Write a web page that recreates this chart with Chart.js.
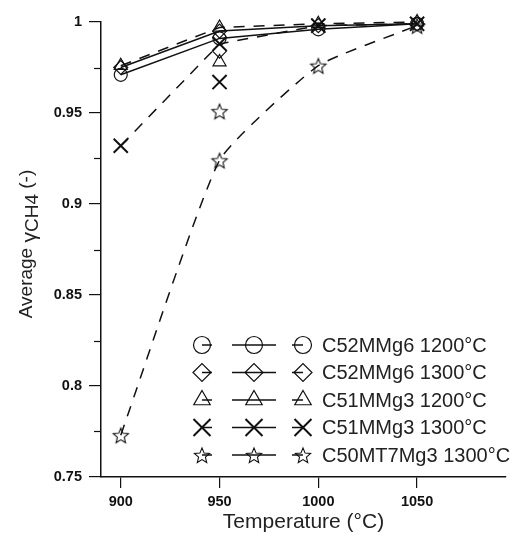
<!DOCTYPE html>
<html lang="en">
<head>
<meta charset="UTF-8" />
<title>Average gamma CH4</title>
<style>
  html, body { margin: 0; padding: 0; background: #fff; }
  #wrap { width: 518px; height: 543px; }
</style>
</head>
<body>
<div id="wrap"><canvas id="chart" width="518" height="543"></canvas></div>
<script src="https://cdn.jsdelivr.net/npm/chart.js"></script>
<script>
// data
const temps = [900, 950, 1000, 1050];
const c52Mg6_1200 = [0.971, 0.991, 0.996, 0.999];
const c52Mg6_1300 = [0.975, 0.995, 0.998, 0.999];
const c51Mg3_1200 = [0.976, 0.997, 0.999, 1.000];
const c51Mg3_1300 = [0.932, 0.988, 0.998, 0.999];
const c50Mg3_1300 = [0.773, 0.924, 0.976, 0.998];

// extra single points at 950 °C
const extraTemp = [950];
const c52Mg6_1300_extra = [0.984];
const c51Mg3_1200_extra = [0.978];
const c51Mg3_1300_extra = [0.967];
const c50Mg3_1300_extra = [0.951];

const seriesLabels = ['C52MMg6 1200°C', 'C52MMg6 1300°C', 'C51MMg3 1200°C', 'C51MMg3 1300°C', 'C50MT7Mg3 1300°C'];
const xTicks = [900, 950, 1000, 1050];
const yTicks = [0.75, 0.8, 0.85, 0.9, 0.95, 1];
const yMinor = [0.775, 0.825, 0.875, 0.925, 0.975];

// hollow five point star as a point style
function makeStar(r) {
  const c = document.createElement('canvas');
  const s = Math.ceil(r * 2 + 4);
  c.width = s; c.height = s;
  const g = c.getContext('2d');
  g.strokeStyle = '#111';
  g.lineWidth = 1.1;
  g.beginPath();
  for (let i = 0; i < 10; i++) {
    const rr = i % 2 ? r * 0.45 : r;
    const a = -Math.PI / 2 + i * Math.PI / 5;
    const px = s / 2 + rr * Math.cos(a), py = s / 2 + 1 + rr * Math.sin(a);
    i ? g.lineTo(px, py) : g.moveTo(px, py);
  }
  g.closePath();
  g.stroke();
  return c;
}
const starImg = makeStar(8);

const styles = [
  { pointStyle: 'circle', radius: 6.5, bw: 1.2, dash: [] },
  { pointStyle: 'rectRot', radius: 7, bw: 1.2, dash: [] },
  { pointStyle: 'triangle', radius: 7.5, bw: 1.2, dash: [11, 9] },
  { pointStyle: 'crossRot', radius: 10, bw: 2, dash: [11, 9] },
  { pointStyle: starImg, radius: 8, bw: 1, dash: [11, 9] }
];

function pts(xs, ys) { return xs.map((x, i) => ({ x: x, y: ys[i] })); }

const lineData = [c52Mg6_1200, c52Mg6_1300, c51Mg3_1200, c51Mg3_1300, c50Mg3_1300];
const extraData = [null, c52Mg6_1300_extra, c51Mg3_1200_extra, c51Mg3_1300_extra, c50Mg3_1300_extra];

const datasets = [];
lineData.forEach((ys, i) => {
  const st = styles[i];
  datasets.push({
    label: seriesLabels[i],
    data: pts(temps, ys),
    borderColor: '#111',
    borderWidth: 1.5,
    borderDash: st.dash,
    backgroundColor: 'rgba(0,0,0,0)',
    pointStyle: st.pointStyle,
    pointRadius: st.radius,
    pointBorderWidth: st.bw,
    pointBorderColor: '#111',
    pointBackgroundColor: 'rgba(0,0,0,0)',
    tension: i === 4 ? 0.15 : 0,
    clip: false
  });
  if (extraData[i]) {
    datasets.push({
      label: seriesLabels[i] + ' extra',
      data: pts(extraTemp, extraData[i]),
      showLine: false,
      pointStyle: st.pointStyle,
      pointRadius: st.radius,
      pointBorderWidth: st.bw,
      pointBorderColor: '#111',
      pointBackgroundColor: 'rgba(0,0,0,0)',
      clip: false
    });
  }
});

// y title with subscript, minor ticks, sigmaplot style legend
const extras = {
  id: 'extras',
  afterDraw(chart) {
    const ctx = chart.ctx;
    const y = chart.scales.y;
    ctx.save();
    ctx.strokeStyle = '#111';
    ctx.lineWidth = 1.2;
    yMinor.forEach(v => {
      const py = Math.round(y.getPixelForValue(v)) + 0.5;
      ctx.beginPath();
      ctx.moveTo(y.right - 7, py);
      ctx.lineTo(y.right, py);
      ctx.stroke();
    });
    ctx.restore();

    // rotated y title
    ctx.save();
    ctx.translate(27, 244);
    ctx.rotate(-Math.PI / 2);
    ctx.fillStyle = '#222';
    ctx.textBaseline = 'middle';
    const parts = [
      { t: 'Average ', f: '19px Arial', dy: 0 },
      { t: 'γ', f: '21px Arial', dy: 3 },
      { t: 'CH4', f: '19px Arial', dy: 6 },
      { t: ' (-)', f: '19px Arial', dy: 0 }
    ];
    let total = 0;
    parts.forEach(p => { ctx.font = p.f; p.w = ctx.measureText(p.t).width; total += p.w; });
    let cx = -total / 2;
    parts.forEach(p => { ctx.font = p.f; ctx.fillText(p.t, cx, p.dy); cx += p.w; });
    ctx.restore();

    // legend
    const rows = [345, 372.5, 400, 427.5, 455];
    ctx.save();
    seriesLabels.forEach((lab, i) => {
      const st = styles[i];
      const ry = rows[i];
      ctx.strokeStyle = '#111';
      ctx.lineWidth = 1.5;
      ctx.setLineDash([]);
      [[202, 212], [232, 276], [292, 303]].forEach(seg => {
        ctx.beginPath();
        ctx.moveTo(seg[0], ry);
        ctx.lineTo(seg[1], ry);
        ctx.stroke();
      });
      [202, 254, 303].forEach(px => {
        ctx.fillStyle = 'rgba(0,0,0,0)';
        ctx.strokeStyle = '#111';
        ctx.lineWidth = st.bw;
        Chart.helpers.drawPoint(ctx, {
          pointStyle: st.pointStyle, radius: i === 4 ? st.radius : st.radius + 2,
          rotation: 0, borderWidth: st.bw
        }, px, ry);
      });
      ctx.fillStyle = '#222';
      ctx.font = '20px Arial';
      ctx.textBaseline = 'middle';
      ctx.textAlign = 'left';
      ctx.fillText(lab, 322, ry + 1);
    });
    ctx.restore();
  }
};

new Chart(document.getElementById('chart'), {
  type: 'line',
  data: { datasets: datasets },
  plugins: [extras],
  options: {
    responsive: false,
    animation: false,
    layout: { padding: { top: 22, right: 0, left: 0, bottom: 0 } },
    plugins: { legend: { display: false }, tooltip: { enabled: false } },
    scales: {
      x: {
        type: 'linear',
        min: 890,
        max: 1095,
        afterBuildTicks: ax => { ax.ticks = xTicks.map(v => ({ value: v })); },
        afterFit: ax => { ax.height = 66; },
        grid: { display: true, drawOnChartArea: false, drawTicks: true, tickLength: 11, color: '#111', lineWidth: 1.2 },
        border: { display: true, color: '#111', width: 1.5 },
        ticks: { color: '#111', font: { family: 'Arial', size: 14.5, weight: 'bold' }, padding: 5, maxRotation: 0,
          callback: v => String(v) },
        title: { display: true, text: 'Temperature (°C)', color: '#222', font: { family: 'Arial', size: 21 }, padding: { top: 0, bottom: 8 } }
      },
      y: {
        min: 0.75,
        max: 1,
        afterBuildTicks: ax => { ax.ticks = yTicks.map(v => ({ value: v })); },
        afterFit: ax => { ax.width = 101; },
        grid: { display: true, drawOnChartArea: false, drawTicks: true, tickLength: 12, color: '#111', lineWidth: 1.2 },
        border: { display: true, color: '#111', width: 1.5 },
        ticks: { color: '#111', font: { family: 'Arial', size: 14.5, weight: 'bold' }, padding: 7,
          callback: v => String(Math.round(v * 100) / 100) }
      }
    }
  }
});
</script>
</body>
</html>
